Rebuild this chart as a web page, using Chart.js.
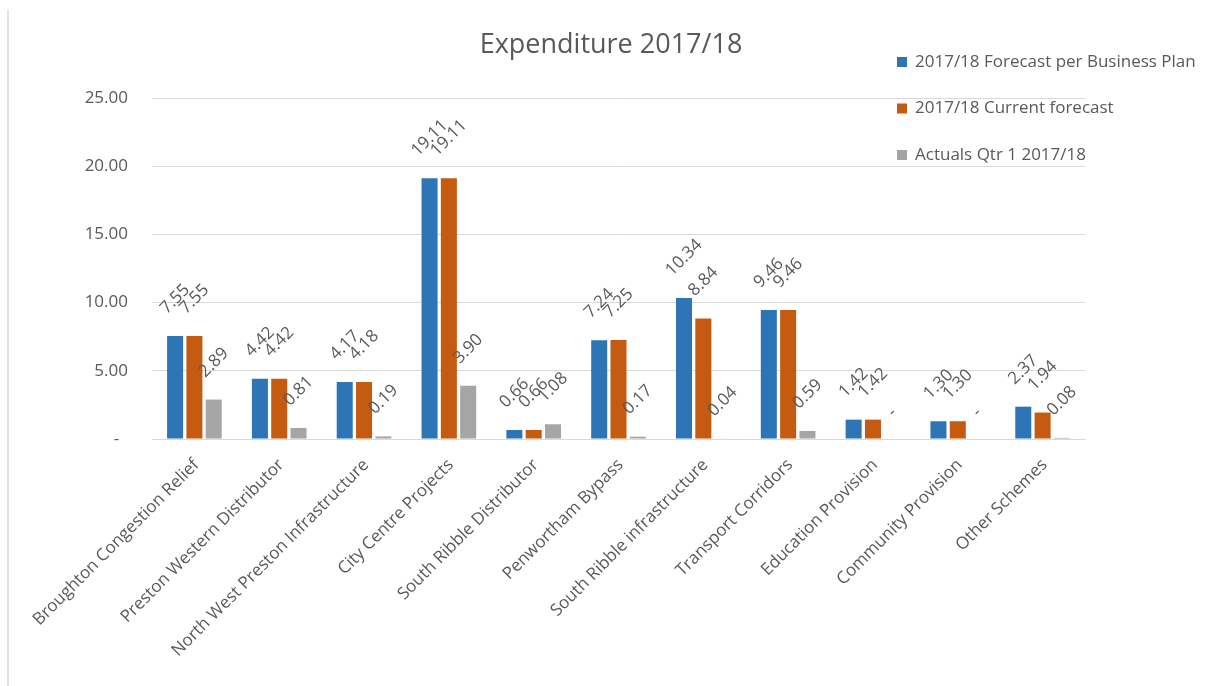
<!DOCTYPE html>
<html>
<head>
<meta charset="utf-8">
<title>Expenditure 2017/18</title>
<script src="https://cdn.jsdelivr.net/npm/chart.js@4.4.1/dist/chart.umd.min.js"></script>
<style>
  html, body { margin: 0; padding: 0; background: #fff; }
  #wrap { position: relative; width: 1206px; height: 686px; }
</style>
</head>
<body>
<div id="wrap"><canvas id="chart" width="1206" height="686"></canvas></div>
<script>
// Scheme names along the bottom
const categories = [
    'Broughton Congestion Relief',
    'Preston Western Distributor',
    'North West Preston Infrastructure',
    'City Centre Projects',
    'South Ribble Distributor',
    'Penwortham Bypass',
    'South Ribble infrastructure',
    'Transport Corridors',
    'Education Provision',
    'Community Provision',
    'Other Schemes'
];

// £m
const forecastBusinessPlan = [7.55, 4.42, 4.17, 19.11, 0.66, 7.24, 10.34, 9.46, 1.42, 1.30, 2.37];
const currentForecast      = [7.55, 4.42, 4.18, 19.11, 0.66, 7.25, 8.84, 9.46, 1.42, 1.30, 1.94];
const actualsQtr1          = [2.89, 0.81, 0.19, 3.90, 1.08, 0.17, 0.04, 0.59, 0, 0, 0.08];

const seriesLabels = [
    '2017/18 Forecast per Business Plan',
    '2017/18 Current forecast',
    'Actuals Qtr 1 2017/18'
];
const seriesColors = ['#2e75b6', '#c55a11', '#a5a5a5'];

const chartTitle = 'Expenditure 2017/18';

const FONT = '"Open Sans", "Liberation Sans", sans-serif';
const TEXT = '#595959';
const GRID = '#d9d9d9';

// Excel accounting style: zero shows as a dash
const fmt = v => v === 0 ? '-' : v.toFixed(2);

// Thin frame line down the left edge, plus the title centred on the whole frame
// (the built-in title would centre on the area left of the legend)
const frameAndTitle = {
    id: 'frameAndTitle',
    beforeDraw(chart) {
        const ctx = chart.ctx;
        ctx.save();
        ctx.strokeStyle = GRID;
        ctx.lineWidth = 1.5;
        ctx.beginPath();
        ctx.moveTo(8, 10);
        ctx.lineTo(8, chart.height);
        ctx.stroke();

        ctx.font = '27px ' + FONT;
        ctx.fillStyle = TEXT;
        ctx.textAlign = 'center';
        ctx.textBaseline = 'middle';
        ctx.fillText(chartTitle, 611, 45);
        ctx.restore();
    }
};

// Rotated value labels above each bar
const valueLabels = {
    id: 'valueLabels',
    afterDatasetsDraw(chart) {
        const ctx = chart.ctx;
        ctx.save();
        ctx.font = '17px ' + FONT;
        ctx.fillStyle = TEXT;
        ctx.textAlign = 'left';
        ctx.textBaseline = 'middle';
        chart.data.datasets.forEach((ds, i) => {
            chart.getDatasetMeta(i).data.forEach((bar, j) => {
                const text = fmt(ds.data[j]);
                const len = ctx.measureText(text).width;
                ctx.save();
                ctx.translate(bar.x - len * 0.3536, bar.y - 25);
                ctx.rotate(-Math.PI / 4);
                ctx.fillText(text, 0, 0);
                ctx.restore();
            });
        });
        ctx.restore();
    }
};

// Legend stacked in the top right corner, overlapping the plot
const sideLegend = {
    id: 'sideLegend',
    afterDraw(chart) {
        const ctx = chart.ctx;
        const x = chart.width - 309;
        ctx.save();
        ctx.font = '17px ' + FONT;
        ctx.textAlign = 'left';
        ctx.textBaseline = 'middle';
        chart.data.datasets.forEach((ds, i) => {
            const y = 62 + i * 46.5;
            ctx.fillStyle = ds.backgroundColor;
            ctx.fillRect(x, y - 5, 10, 10);
            ctx.fillStyle = TEXT;
            ctx.fillText(ds.label, x + 18, y);
        });
        ctx.restore();
    }
};

const datasets = [forecastBusinessPlan, currentForecast, actualsQtr1].map((data, i) => ({
    label: seriesLabels[i],
    data,
    backgroundColor: seriesColors[i],
    borderWidth: 0,
    categoryPercentage: 0.683,
    barPercentage: 0.83
}));

new Chart(document.getElementById('chart'), {
    type: 'bar',
    data: { labels: categories, datasets },
    plugins: [frameAndTitle, valueLabels, sideLegend],
    options: {
        responsive: false,
        animation: false,
        layout: { padding: { left: 0, right: 121, top: 98, bottom: 0 } },
        plugins: {
            legend: { display: false },
            tooltip: { enabled: false },
            title: { display: false }
        },
        scales: {
            x: {
                grid: { display: false },
                border: { color: GRID, width: 1 },
                ticks: {
                    color: TEXT,
                    font: { family: FONT, size: 17 },
                    autoSkip: false,
                    minRotation: 45,
                    maxRotation: 45,
                    padding: 8,
                    labelOffset: 2
                },
                afterFit: s => { s.height = 247; }
            },
            y: {
                min: 0,
                max: 25,
                border: { display: false },
                grid: { color: GRID, lineWidth: 1, drawTicks: false },
                ticks: {
                    color: TEXT,
                    font: { family: FONT, size: 17 },
                    stepSize: 5,
                    padding: 24,
                    callback: v => v === 0 ? '-  ' : v.toFixed(2)
                },
                afterFit: s => { s.width = 152; }
            }
        }
    }
});
</script>
</body>
</html>
